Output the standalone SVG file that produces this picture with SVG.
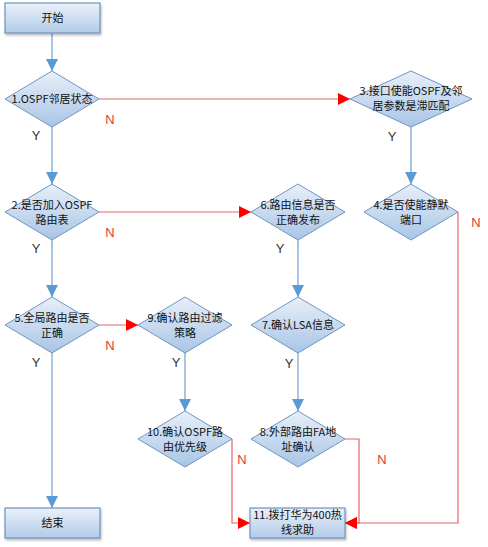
<svg xmlns="http://www.w3.org/2000/svg" width="488" height="547" viewBox="0 0 488 547">
<defs>
<linearGradient id="gBox" x1="0" y1="0" x2="0" y2="1">
<stop offset="0" stop-color="#eaf1fa"/>
<stop offset="1" stop-color="#b2cbe8"/>
</linearGradient>
<linearGradient id="gDia" x1="0" y1="0" x2="0" y2="1">
<stop offset="0" stop-color="#e8eff8"/>
<stop offset="1" stop-color="#a8c5e6"/>
</linearGradient>
<filter id="sh" x="-10%" y="-10%" width="130%" height="140%">
<feDropShadow dx="1" dy="2" stdDeviation="1.2" flood-color="#000" flood-opacity="0.25"/>
</filter>
<marker id="aB" markerUnits="userSpaceOnUse" markerWidth="12" markerHeight="12" viewBox="0 0 12 12" refX="12" refY="6" orient="auto">
<path d="M0,0 L12,6 L0,12 Z" fill="#5b9bd5"/>
</marker>
<marker id="aR" markerUnits="userSpaceOnUse" markerWidth="12" markerHeight="12" viewBox="0 0 12 12" refX="12" refY="6" orient="auto">
<path d="M0,0 L12,6 L0,12 Z" fill="#ff0000"/>
</marker>
</defs>
<style>
.box{fill:url(#gBox);stroke:#6f92bd;stroke-width:1.2;filter:url(#sh)}
.dia{fill:url(#gDia);stroke:#6f95c0;stroke-width:1}
.t{font-family:"Noto Sans CJK SC","Liberation Sans",sans-serif;font-size:11px;fill:#111;text-anchor:middle}
.b{fill:none;stroke:#8fb1d9;stroke-width:1.5;marker-end:url(#aB)}
.r{fill:none;stroke:#e5646a;stroke-width:1.2;marker-end:url(#aR)}
.y{font-family:"Liberation Sans",sans-serif;font-size:13px;fill:#333;text-anchor:middle}
.n{font-family:"Liberation Sans",sans-serif;font-size:13px;fill:#e53935;text-anchor:middle}
</style>
<rect width="488" height="547" fill="#fff"/>
<g id="connectors">
<path class="b" d="M52,33 V71"/>
<path class="b" d="M52,127 V184"/>
<path class="r" d="M99,99 H350"/>
<path class="b" d="M411,127 V184"/>
<path class="r" d="M458,212 V523 H345"/>
<path class="r" d="M99,212 H251"/>
<path class="b" d="M52,240 V297"/>
<path class="b" d="M298,240 V297"/>
<path class="r" d="M99,325 H138"/>
<path class="b" d="M52,353 V508"/>
<path class="b" d="M185,353 V411"/>
<path class="b" d="M298,353 V411"/>
<path class="r" d="M232,439 V523 H250"/>
<path class="r" d="M345,439 H359 V523 H345"/>
<text class="y" x="36" y="140">Y</text>
<text class="n" x="110" y="124">N</text>
<text class="y" x="392" y="141">Y</text>
<text class="n" x="476" y="227">N</text>
<text class="n" x="110" y="237">N</text>
<text class="y" x="36" y="253">Y</text>
<text class="y" x="280" y="253">Y</text>
<text class="n" x="110" y="350">N</text>
<text class="y" x="36" y="367">Y</text>
<text class="y" x="176" y="367">Y</text>
<text class="y" x="289" y="368">Y</text>
<text class="n" x="242" y="464">N</text>
<text class="n" x="382" y="464">N</text>
</g>
<g id="start"><rect class="box" x="5" y="3" width="95" height="30"/><text class="t" x="52.5" y="22">开始</text></g>
<g id="n1"><path class="dia" d="M52,71 L99,99 L52,127 L5,99 Z"/><text class="t" x="52" y="103">1.OSPF邻居状态</text></g>
<g id="n3"><path class="dia" d="M411,71 L472,99 L411,127 L350,99 Z"/><text class="t" x="411" y="95">3.接口使能OSPF及邻</text><text class="t" x="411" y="110">居参数是滞匹配</text></g>
<g id="n2"><path class="dia" d="M52,184 L99,212 L52,240 L5,212 Z"/><text class="t" x="52" y="209">2.是否加入OSPF</text><text class="t" x="52" y="224">路由表</text></g>
<g id="n6"><path class="dia" d="M298,184 L345,212 L298,240 L251,212 Z"/><text class="t" x="298" y="209">6.路由信息是否</text><text class="t" x="298" y="224">正确发布</text></g>
<g id="n4"><path class="dia" d="M411,184 L458,212 L411,240 L364,212 Z"/><text class="t" x="411" y="209">4.是否使能静默</text><text class="t" x="411" y="224">端口</text></g>
<g id="n5"><path class="dia" d="M52,297 L99,325 L52,353 L5,325 Z"/><text class="t" x="52" y="322">5.全局路由是否</text><text class="t" x="52" y="337">正确</text></g>
<g id="n9"><path class="dia" d="M185,297 L232,325 L185,353 L138,325 Z"/><text class="t" x="185" y="322">9.确认路由过滤</text><text class="t" x="185" y="337">策略</text></g>
<g id="n7"><path class="dia" d="M298,297 L345,325 L298,353 L251,325 Z"/><text class="t" x="298" y="329">7.确认LSA信息</text></g>
<g id="n10"><path class="dia" d="M185,411 L232,439 L185,467 L138,439 Z"/><text class="t" x="185" y="436">10.确认OSPF路</text><text class="t" x="185" y="451">由优先级</text></g>
<g id="n8"><path class="dia" d="M298,411 L345,439 L298,467 L251,439 Z"/><text class="t" x="298" y="436">8.外部路由FA地</text><text class="t" x="298" y="451">址确认</text></g>
<g id="n11"><rect class="box" x="250" y="508" width="95" height="30"/><text class="t" x="297.5" y="519">11.拨打华为400热</text><text class="t" x="297.5" y="534">线求助</text></g>
<g id="end"><rect class="box" x="5" y="508" width="95" height="30"/><text class="t" x="52.5" y="527">结束</text></g>
</svg>
